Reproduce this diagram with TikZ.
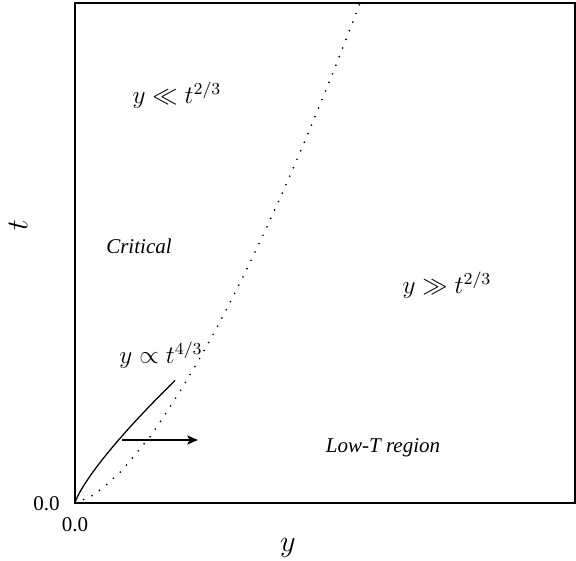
\documentclass[tikz,border=0pt]{standalone}
\usepackage{amsmath,amssymb}
\usepackage{fontspec}
\setmainfont{Liberation Serif}
\usepackage{tikz}
\usetikzlibrary{arrows.meta,positioning}
\tikzset{
  frame/.style={line width=0.7pt, black},
  bound/.style={line width=0.9pt, line cap=round, dash pattern=on 0pt off 4.4pt},
  regime/.style={font=\large, inner sep=1pt},
  region/.style={font=\normalsize\itshape, inner sep=1pt},
  tick/.style={font=\normalsize, inner sep=0pt},
  axlab/.style={font=\Large, inner sep=0pt},
  arr/.style={-{Stealth[length=1.8mm, width=1.5mm, inset=0.4mm]}, line width=0.7pt, black},
}

\begin{document}
\begin{tikzpicture}[x=0.8359cm, y=0.8359cm]
\useasboundingbox (-1.5,-1.16) rectangle (10.02,10.06);
\draw[frame] (0,0) rectangle (10,10);
% crossover line y ~ t^{2/3}
\draw[bound] plot[domain=0:10, samples=80, variable=\s] ({5.7*(\s/10)^(2/3)}, \s);
% y ~ t^{4/3}
\draw[line width=0.6pt] plot[domain=0:2.45, samples=60, variable=\s] ({0.653*(\s)^(1.25)}, \s);
\coordinate (arrS) at (0.94,1.26);
\coordinate (arrE) at (2.46,1.26);
\draw[arr] (arrS) -- (arrE);
\node[regime] (ll) at (2.04,8.16) {$y \ll t^{2/3}$};
\node[regime] (gg) at (7.44,4.36) {$y \gg t^{2/3}$};
\node[regime] (pr) at (1.72,2.96) {$y \propto t^{4/3}$};
\node[region] (crit) at (1.28,5.14) {Critical};
\node[region] (lowT) at (6.16,1.10) {Low-T region};
\node[tick, anchor=east] (x0) at (-0.3,-0.02) {0.0};
\node[tick] (y0) at (0,-0.44) {0.0};
\node[axlab] (ylab) at (4.26,-0.9) {$y$};
\node[axlab, rotate=90] (tlab) at (-1.14,5.56) {$t$};
\end{tikzpicture}
\end{document}
